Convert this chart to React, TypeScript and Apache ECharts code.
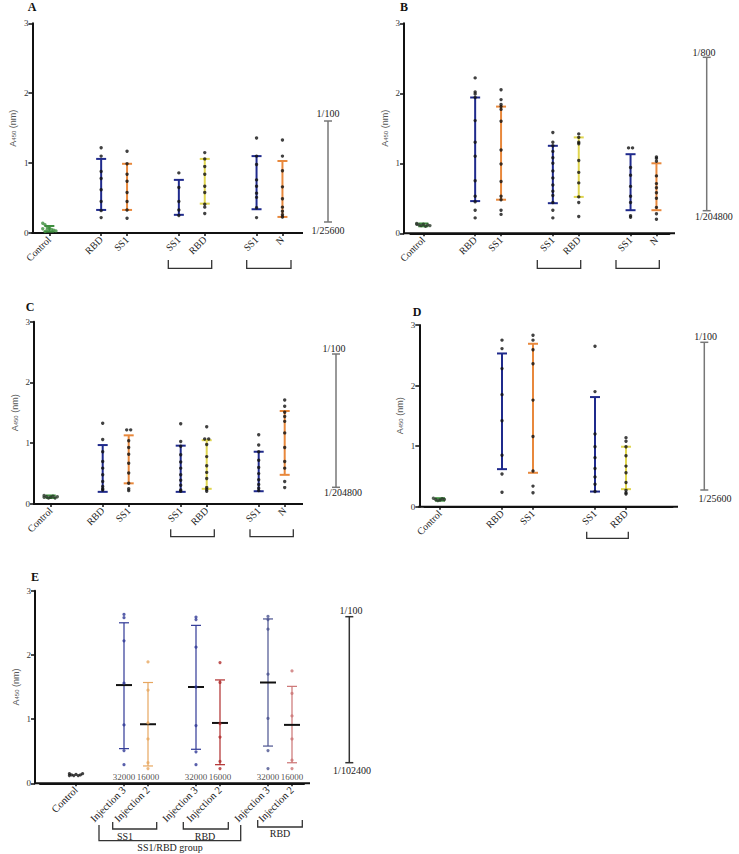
import React, { useEffect, useRef } from 'react';
import * as echarts from 'echarts';

// ---------- Panel A ----------
const catsA = ['Control', '', 'RBD', 'SS1', '', 'SS1', 'RBD', '', 'SS1', 'N'];
const posA = [0, 2, 3, 5, 6, 8, 9];
const dotsA = [
  [0.14, 0.12, 0.09, 0.07, 0.05, 0.04, 0.03, 0.06, 0.02, 0.05],
  [1.22, 1.10, 0.88, 0.78, 0.62, 0.45, 0.32, 0.22],
  [1.17, 0.99, 0.84, 0.74, 0.58, 0.45, 0.33, 0.21],
  [0.86, 0.65, 0.45, 0.33, 0.25],
  [1.15, 1.06, 0.95, 0.84, 0.67, 0.58, 0.41, 0.37, 0.28],
  [1.36, 1.10, 0.98, 0.76, 0.67, 0.57, 0.51, 0.36, 0.22],
  [1.33, 1.10, 0.89, 0.66, 0.49, 0.37, 0.31, 0.26, 0.23],
];
const lowA = [0.02, 0.33, 0.33, 0.26, 0.42, 0.34, 0.23];
const highA = [0.10, 1.06, 0.99, 0.76, 1.06, 1.10, 1.03];

// ---------- Panel B ----------
const catsB = ['Control', '', 'RBD', 'SS1', '', 'SS1', 'RBD', '', 'SS1', 'N'];
const posB = [0, 2, 3, 5, 6, 8, 9];
const dotsB = [
  [0.14, 0.12, 0.11, 0.13, 0.10, 0.12, 0.11, 0.13],
  [2.22, 2.02, 1.99, 1.94, 1.61, 1.30, 1.10, 0.75, 0.53, 0.45, 0.33, 0.22],
  [2.05, 1.91, 1.84, 1.81, 1.77, 1.60, 1.19, 0.99, 0.74, 0.53, 0.48, 0.33, 0.27],
  [1.44, 1.30, 1.25, 1.17, 1.08, 1.00, 0.89, 0.79, 0.69, 0.60, 0.54, 0.44, 0.33, 0.22],
  [1.42, 1.37, 1.30, 1.28, 1.04, 0.87, 0.72, 0.52, 0.44, 0.24],
  [1.22, 1.22, 0.94, 0.83, 0.67, 0.53, 0.44, 0.25, 0.23],
  [1.09, 1.07, 1.03, 0.82, 0.71, 0.65, 0.58, 0.50, 0.37, 0.28, 0.20],
];
const lowB = [0.10, 0.46, 0.48, 0.43, 0.52, 0.33, 0.33];
const highB = [0.14, 1.94, 1.81, 1.25, 1.37, 1.13, 1.00];

// ---------- Panel C ----------
const catsC = ['Control', '', 'RBD', 'SS1', '', 'SS1', 'RBD', '', 'SS1', 'N'];
const posC = [0, 2, 3, 5, 6, 8, 9];
const dotsC = [
  [0.14, 0.12, 0.10, 0.11, 0.13, 0.10, 0.12, 0.11],
  [1.33, 1.06, 0.86, 0.70, 0.59, 0.48, 0.37, 0.29, 0.25, 0.23],
  [1.22, 1.22, 1.04, 0.93, 0.82, 0.67, 0.51, 0.34, 0.25, 0.22],
  [1.32, 1.03, 0.95, 0.81, 0.69, 0.59, 0.48, 0.39, 0.31, 0.23, 0.21],
  [1.27, 1.07, 1.07, 0.98, 0.78, 0.63, 0.52, 0.42, 0.27, 0.24, 0.21],
  [1.14, 0.97, 0.86, 0.72, 0.60, 0.50, 0.40, 0.32, 0.26, 0.22],
  [1.71, 1.61, 1.51, 1.44, 1.36, 1.17, 0.93, 0.70, 0.59, 0.37, 0.27],
];
const lowC = [0.10, 0.20, 0.34, 0.20, 0.25, 0.21, 0.48];
const highC = [0.14, 0.97, 1.13, 0.96, 1.05, 0.86, 1.53];

// ---------- Panel D ----------
const catsD = ['Control', '', 'RBD', 'SS1', '', 'SS1', 'RBD', ''];
const posD = [0, 2, 3, 5, 6];
const dotsD = [
  [0.14, 0.12, 0.10, 0.11, 0.13, 0.12],
  [2.75, 2.61, 2.28, 1.85, 1.42, 0.85, 0.54, 0.24],
  [2.83, 2.75, 2.59, 2.36, 1.76, 1.16, 0.59, 0.34, 0.23],
  [2.65, 1.90, 1.20, 0.99, 0.81, 0.63, 0.49, 0.37, 0.25],
  [1.14, 1.08, 0.99, 0.84, 0.67, 0.56, 0.40, 0.27, 0.23, 0.21],
];
const lowD = [0.10, 0.62, 0.56, 0.25, 0.29];
const highD = [0.14, 2.53, 2.69, 1.81, 0.99];

// ---------- Panel E ----------
const catsE = ['', 'Control', '', 'Injection 3', 'Injection 2', '', 'Injection 3', 'Injection 2', '', 'Injection 3', 'Injection 2'];
const posE = [1, 3, 4, 6, 7, 9, 10];
const dotsE = [
  [0.15, 0.13, 0.12, 0.14, 0.12, 0.13, 0.15, 0.12],
  [2.63, 2.58, 2.22, 1.56, 0.91, 0.51, 0.29],
  [1.89, 1.45, 0.94, 0.69, 0.32, 0.23],
  [2.59, 2.55, 2.12, 1.50, 0.90, 0.49, 0.29],
  [1.88, 1.57, 0.93, 0.72, 0.34, 0.23],
  [2.60, 2.55, 2.40, 1.70, 1.01, 0.51, 0.23],
  [1.75, 1.40, 1.05, 0.69, 0.36, 0.23],
];
const lowE = [null, 0.54, 0.27, 0.53, 0.29, 0.58, 0.32];
const highE = [null, 2.50, 1.57, 2.46, 1.61, 2.56, 1.51];
const meanE = [null, 1.53, 0.92, 1.50, 0.94, 1.57, 0.91];
const titerE = ['', '32000', '16000', '32000', '16000', '32000', '16000'];

// ---------- Annotations ----------
const panelLetters = ['A', 'B', 'C', 'D', 'E'];
const titerTop = ['1/100', '1/800', '1/100', '1/100', '1/100'];
const titerBottom = ['1/25600', '1/204800', '1/204800', '1/25600', '1/102400'];
const bracketLabelsE = ['SS1', 'RBD', 'RBD', 'SS1/RBD group'];
const yTicks = [0, 1, 2, 3];

// ---------- Styles ----------
const SERIF = '"Liberation Serif", "Times New Roman", serif';
const SANS = '"Liberation Sans", Arial, sans-serif';
const NAVY = '#1f2a8c';
const ORANGE = '#e8883c';
const YELLOW = '#e0d650';
const GREEN = '#3f8f3f';
const DARK = '#2a3a2a';
const E_BLUE = '#2f3896';
const E_BLUE2 = '#4a528f';
const E_ORANGE = '#e7a760';
const E_RED = '#b02c2c';
const E_RED2 = '#cc7474';

const layouts = [
  { left: 36.4, top: 23.3, width: 259, height: 209.7, off: 4, xEnd: 303 },
  { left: 410.4, top: 23.3, width: 259, height: 210, off: 6.4, xEnd: 675 },
  { left: 37.7, top: 321.7, width: 260, height: 182.3, off: 3.7, xEnd: 303 },
  { left: 424.5, top: 325, width: 248, height: 181.7, off: 5.2, xEnd: 678 },
  { left: 40, top: 590.7, width: 264, height: 192.6, off: 5, xEnd: 310 },
];

const panels = [
  { cats: catsA, pos: posA, dots: dotsA, low: lowA, high: highA, mean: null as any,
    barColors: [GREEN, NAVY, ORANGE, NAVY, YELLOW, NAVY, ORANGE],
    dotColors: [GREEN, '#111', '#111', '#111', '#111', '#111', '#111'], lw: 2 },
  { cats: catsB, pos: posB, dots: dotsB, low: lowB, high: highB, mean: null as any,
    barColors: [GREEN, NAVY, ORANGE, NAVY, YELLOW, NAVY, ORANGE],
    dotColors: [DARK, '#111', '#111', '#111', '#111', '#111', '#111'], lw: 2 },
  { cats: catsC, pos: posC, dots: dotsC, low: lowC, high: highC, mean: null as any,
    barColors: [GREEN, NAVY, ORANGE, NAVY, YELLOW, NAVY, ORANGE],
    dotColors: [DARK, '#111', '#111', '#111', '#111', '#111', '#111'], lw: 2 },
  { cats: catsD, pos: posD, dots: dotsD, low: lowD, high: highD, mean: null as any,
    barColors: [GREEN, NAVY, ORANGE, NAVY, YELLOW],
    dotColors: [DARK, '#111', '#111', '#111', '#111'], lw: 2 },
  { cats: catsE, pos: posE, dots: dotsE, low: lowE, high: highE, mean: meanE,
    barColors: ['#111', E_BLUE, E_ORANGE, E_BLUE, E_RED, E_BLUE2, E_RED2],
    dotColors: ['#111', E_BLUE, E_ORANGE, E_BLUE, E_RED, E_BLUE2, E_RED2], lw: 1.2 },
];

function makeRender(lw: number) {
  return (params: any, api: any) => {
    const x = api.value(0);
    const lo = api.coord([x, api.value(1)]);
    const hi = api.coord([x, api.value(2)]);
    const color = api.visual('color');
    const cap = 10;
    const st = { stroke: color, lineWidth: lw };
    const children: any[] = [
      { type: 'line', shape: { x1: lo[0], y1: lo[1], x2: hi[0], y2: hi[1] }, style: st },
      { type: 'line', shape: { x1: lo[0] - cap / 2, y1: lo[1], x2: lo[0] + cap / 2, y2: lo[1] }, style: st },
      { type: 'line', shape: { x1: hi[0] - cap / 2, y1: hi[1], x2: hi[0] + cap / 2, y2: hi[1] }, style: st },
    ];
    const m = api.value(3);
    if (m != null && !isNaN(m)) {
      const mp = api.coord([x, m]);
      children.push({ type: 'line', shape: { x1: mp[0] - 8, y1: mp[1], x2: mp[0] + 8, y2: mp[1] }, style: { stroke: '#111', lineWidth: 2 } });
    }
    return { type: 'group', children };
  };
}

function txt(text: string, x: number, y: number, font: string, align = 'center', fill = '#222') {
  return {
    type: 'text', x, y, silent: true,
    style: { text, font, fill, align, verticalAlign: 'middle', textAlign: align, textVerticalAlign: 'middle' },
  };
}
function seg(x1: number, y1: number, x2: number, y2: number, stroke = '#222', lineWidth = 1.5) {
  return { type: 'line', silent: true, shape: { x1, y1, x2, y2 }, style: { stroke, lineWidth } };
}
function bracket(x1: number, x2: number, yTop: number, yBot: number) {
  return { type: 'polyline', silent: true, shape: { points: [[x1, yTop], [x1, yBot], [x2, yBot], [x2, yTop]] }, style: { stroke: '#333', lineWidth: 1.3, fill: 'none' } };
}
function titerBar(i: number, x: number, top: number, bot: number, tx: number, ty: number, bx: number, by: number, balign = 'center', stroke = '#777') {
  return [
    seg(x, top, x, bot, stroke, 1.5),
    seg(x - 4, top, x + 4, top, stroke, 1.5),
    seg(x - 4, bot, x + 4, bot, stroke, 1.5),
    txt(titerTop[i], tx, ty, `10px ${SERIF}`),
    txt(titerBottom[i], bx, by, `10px ${SERIF}`, balign),
  ];
}

export default function App() {
  const ref = useRef<HTMLDivElement>(null);
  useEffect(() => {
    if (!ref.current) return;
    const chart = echarts.init(ref.current, undefined, { renderer: 'svg' });

    const grid: any[] = [];
    const xAxis: any[] = [];
    const yAxis: any[] = [];
    const series: any[] = [];
    const graphic: any[] = [];
    const letterPos = [[32, 7], [404, 7], [30, 307], [417, 312], [35, 577]];

    panels.forEach((p, pi) => {
      const L = layouts[pi];
      grid.push({ left: L.left, top: L.top, width: L.width, height: L.height });
      xAxis.push({
        type: 'category', gridIndex: pi, data: p.cats,
        axisLine: { show: true, lineStyle: { color: '#111', width: 2 } },
        axisTick: { show: true, alignWithLabel: true, length: 3, interval: (idx: number, val: string) => val !== '', lineStyle: { color: '#111', width: 1.5 } },
        axisLabel: { rotate: 45, interval: 0, fontSize: pi === 4 ? 10.5 : 10, fontFamily: SERIF, color: '#222', margin: 5 },
        splitLine: { show: false },
      });
      yAxis.push({
        type: 'value', gridIndex: pi, min: yTicks[0], max: yTicks[yTicks.length - 1], interval: 1, offset: L.off,
        name: 'A{s|450} (nm)', nameLocation: 'middle', nameGap: 15,
        nameTextStyle: { fontSize: 9, color: '#555', fontFamily: SANS, rich: { s: { fontSize: 6, color: '#555', fontFamily: SANS, verticalAlign: 'bottom', lineHeight: 6 } } },
        axisLine: { show: true, lineStyle: { color: '#111', width: 2 } },
        axisTick: { show: true, length: 4, lineStyle: { color: '#111', width: 1.5 } },
        axisLabel: { fontSize: 9, fontFamily: SERIF, color: '#333', margin: 4 },
        splitLine: { show: false },
      });

      const barData: any[] = [];
      p.pos.forEach((c, gi) => {
        if (p.low[gi] == null) return;
        const val: any[] = [c, p.low[gi], p.high[gi]];
        if (p.mean && p.mean[gi] != null) val.push(p.mean[gi]);
        barData.push({ value: val, itemStyle: { color: p.barColors[gi] } });
      });
      series.push({
        type: 'custom', xAxisIndex: pi, yAxisIndex: pi, renderItem: makeRender(p.lw), data: barData, z: 2,
        encode: { x: 0, y: [1, 2] }, silent: true,
      });

      const dotData: any[] = [];
      p.pos.forEach((c, gi) => {
        const vals = p.dots[gi];
        vals.forEach((v, k) => {
          let dx = 0;
          if (gi === 0) {
            dx = ((k % 7) - 3) * 2.2;
          } else {
            const dup = vals.slice(0, k).filter((w) => Math.abs(w - v) < 0.015).length;
            const dupAfter = vals.slice(k + 1).filter((w) => Math.abs(w - v) < 0.015).length;
            if (dup > 0) dx = 2;
            else if (dupAfter > 0) dx = -2;
          }
          dotData.push({ value: [c, v], itemStyle: { color: p.dotColors[gi] }, symbolOffset: [dx, 0] });
        });
      });
      series.push({
        type: 'scatter', xAxisIndex: pi, yAxisIndex: pi, data: dotData, symbolSize: pi === 4 ? 3.2 : 3.4, z: 3, silent: true,
      });

      const bottom = L.top + L.height;
      graphic.push(seg(L.left - L.off - 1, bottom, L.xEnd, bottom, '#111', 2));
      graphic.push(txt(panelLetters[pi], letterPos[pi][0], letterPos[pi][1], `bold 12px ${SERIF}`, 'center', '#111'));
    });

    // titer labels E
    series.push({
      type: 'scatter', xAxisIndex: 4, yAxisIndex: 4, symbolSize: 0, silent: true,
      data: posE.map((c, i) => ({ value: [c, 0], label: { show: titerE[i] !== '', formatter: titerE[i] } })),
      label: { position: 'top', distance: 2, fontSize: 9, fontFamily: SERIF, color: '#222' },
      z: 4,
    });

    graphic.push(...titerBar(0, 328, 121, 222, 328, 113, 328, 230));
    graphic.push(...titerBar(1, 706.7, 57.3, 210.7, 704, 52, 695, 216, 'left'));
    graphic.push(...titerBar(2, 336, 354, 487.3, 334, 348, 343, 492));
    graphic.push(...titerBar(3, 704.3, 342.3, 490, 705.7, 336, 715, 498.3));
    graphic.push(...titerBar(4, 349.3, 616.7, 762.7, 351, 610.7, 352, 770.7, 'center', '#333'));

    // brackets
    graphic.push(bracket(168.3, 211.7, 260, 268.3));
    graphic.push(bracket(246.7, 291, 260, 268.3));
    graphic.push(bracket(537.3, 580.7, 260, 268.3));
    graphic.push(bracket(616, 659.3, 260, 268.3));
    graphic.push(bracket(170.7, 214.3, 529.3, 536.7));
    graphic.push(bracket(250, 293.3, 529.3, 536.7));
    graphic.push(bracket(586.7, 628.3, 531.7, 538.3));
    graphic.push(bracket(112.7, 156.7, 822, 829));
    graphic.push(bracket(183.3, 228.3, 822, 829));
    graphic.push(bracket(99, 240.7, 825, 840.7));
    graphic.push(bracket(257.7, 302.3, 820, 827));
    graphic.push(txt(bracketLabelsE[0], 125, 836.5, `10px ${SERIF}`));
    graphic.push(txt(bracketLabelsE[1], 205, 836.5, `10px ${SERIF}`));
    graphic.push(txt(bracketLabelsE[2], 280, 833.5, `10px ${SERIF}`));
    graphic.push(txt(bracketLabelsE[3], 170, 847.5, `10px ${SERIF}`));

    chart.setOption({
      animation: false,
      backgroundColor: '#ffffff',
      grid, xAxis, yAxis, series, graphic,
    });
    return () => chart.dispose();
  }, []);
  return <div ref={ref} style={{ position: 'fixed', left: 0, top: 0, width: 739, height: 854, background: '#fff' }} />;
}
